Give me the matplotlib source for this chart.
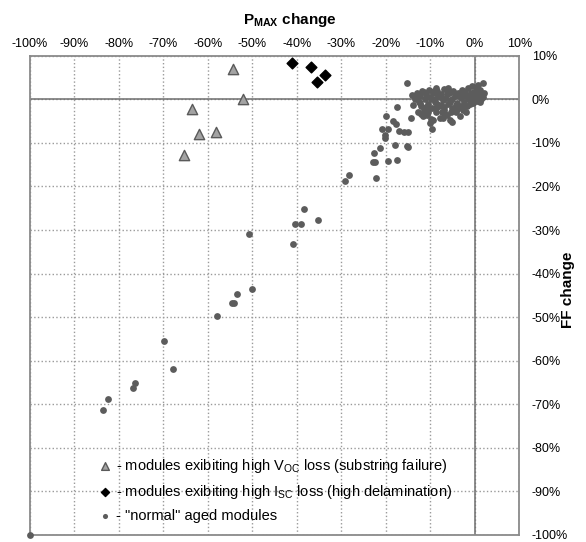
import matplotlib
matplotlib.use("Agg")
import matplotlib.pyplot as plt
from matplotlib.ticker import FuncFormatter

plt.rcParams.update({"font.family": ["Liberation Sans", "DejaVu Sans"], "font.size": 9})

# modules with high Voc loss (substring failure): Pmax change %, FF change %
voc_pmax = [-54.4, -52.2, -63.5, -58.2, -62.0, -65.3]
voc_ff = [7.0, 0.0, -2.2, -7.4, -7.9, -12.7]

# modules with high Isc loss (high delamination)
isc_pmax = [-41.0, -36.8, -33.6, -35.5]
isc_ff = [8.3, 7.4, 5.6, 4.1]

# "normal" aged modules
norm_pmax = [
    -100.0, -83.5, -82.4, -76.8, -76.4, -69.8, -67.8, -57.9, -54.6, -54.1,
    -53.5, -50.0, -50.7, -40.9, -40.5, -39.1, -38.3, -35.3, -29.1, -28.2,
    -22.2, -22.4, -22.9, -22.6, -21.3, -20.9, -20.1, -20.1, -20.0, -19.4,
    -19.4, -18.3, -17.9, -17.7, -17.5, -17.4, -17.1, -16.0, -15.3, -15.3,
    -14.9, -14.9, -14.4, -9.6,
    -14.0, -13.5, -13.0, -12.6, -12.2, -12.0, -11.8, -11.5, -11.2, -11.0,
    -10.8, -10.5, -10.2, -10.0, -9.8, -9.6, -9.3, -9.0, -8.8, -8.5,
    -8.2, -8.0, -7.8, -7.5, -7.2, -7.0, -6.8, -6.5, -6.2, -6.0,
    -5.8, -5.5, -5.2, -5.0, -4.8, -4.5, -4.2, -4.0, -3.8, -3.5,
    -3.3, -3.0, -2.8, -2.6, -2.3, -2.0, -1.8, -1.5, -1.3, -1.0,
    -0.8, -0.5, -0.3, 0.0, 0.2, 0.5, 0.8, 1.0, 1.2, 1.5,
    1.8, 2.0, -12.8, -10.0, -9.3, -7.1, -5.1, -11.6, -13.8, -6.0,
    -8.8, -11.0, -6.8, -4.0, -2.0, -0.5, 0.5, -9.0, -7.5, -3.0,
    -13.2, -12.4, -11.4, -10.6, -9.9, -9.1, -8.4, -7.7, -6.9, -6.3,
    -5.6, -4.9, -4.3, -3.6, -2.9, -2.2, -1.6, -0.9, -0.2, 0.6,
    1.3, 1.9, -12.0, -10.4, -8.6, -7.3, -5.4, -3.9, -2.5, -1.1,
]
norm_ff = [
    -100.0, -71.3, -68.8, -66.2, -65.2, -55.4, -61.9, -49.7, -46.8, -46.8,
    -44.7, -43.5, -31.0, -33.3, -28.7, -28.7, -25.2, -27.8, -18.7, -17.3,
    -18.0, -14.3, -14.3, -12.4, -11.2, -6.8, -8.2, -8.9, -3.8, -6.8,
    -14.1, -4.9, -10.4, -5.6, -13.9, -1.8, -7.2, -7.4, -10.8, 3.7,
    -7.5, -11.0, -4.3, -6.8,
    1.0, 0.2, 1.5, -0.5, 0.8, -1.5, 2.0, -2.5, 0.0, 1.2,
    -3.5, -1.0, 2.2, 0.5, -4.5, -2.0, 1.5, -0.5, -3.0, 2.0,
    0.8, -1.5, -4.2, 1.2, -0.2, -2.5, 2.3, 0.4, -3.5, -1.0,
    1.5, -4.8, 0.0, -2.0, 2.0, 0.8, -3.0, -0.8, 1.5, -1.8,
    -3.8, 0.3, 2.2, -2.4, -0.5, 1.0, -1.5, 2.5, 0.0, -1.0,
    1.5, 3.0, -0.8, 0.5, 2.0, -0.3, 3.3, 1.0, 2.2, 0.2,
    3.8, 1.5, -2.8, -5.5, -4.7, -4.3, -5.1, -3.9, -1.2, 2.5,
    2.6, -1.8, -3.2, 1.0, -2.9, 0.8, 1.2, 0.0, -1.2, -1.5,
    0.6, -0.9, 1.8, -2.2, 0.1, 2.0, -1.0, 0.6, -1.8, 1.3,
    -0.6, 1.8, -1.4, 0.9, -2.0, 1.6, 0.4, -0.2, 1.6, 2.6,
    -0.6, 0.5, -3.3, -2.8, -2.0, -3.0, -2.9, -2.2, 0.9, 0.3,
]

ticks = list(range(-100, 11, 10))

fig = plt.figure(figsize=(5.86, 5.42), dpi=100)
ax = fig.add_axes([0.051, 0.013, 0.835, 0.884])

ax.scatter(voc_pmax, voc_ff, marker="^", s=55, c="#a3a3a3", edgecolors="#5a5a5a",
           linewidths=1.0, zorder=4,
           label=r"- modules exibiting high V$_{\mathregular{OC}}$ loss (substring failure)")
ax.scatter(isc_pmax, isc_ff, marker="D", s=30, c="black", zorder=4,
           label=r"- modules exibiting high I$_{\mathregular{SC}}$ loss (high delamination)")
ax.scatter(norm_pmax, norm_ff, marker="o", s=24, c="#5c5c5c", linewidths=0, zorder=3,
           clip_on=False, label='- "normal" aged modules')

ax.set_xlim(-100, 10)
ax.set_ylim(-100, 10)
ax.set_xticks(ticks)
ax.set_yticks(ticks)
pct = FuncFormatter(lambda v, p: f"{v:.0f}%")
ax.xaxis.set_major_formatter(pct)
ax.yaxis.set_major_formatter(pct)
ax.xaxis.tick_top()
ax.yaxis.tick_right()
ax.tick_params(axis="x", length=0, pad=4, labelsize=9)
ax.tick_params(axis="y", length=0, pad=9, labelsize=9)
for lab in ax.get_yticklabels():
    lab.set_horizontalalignment("left")

ax.grid(True, ls=":", color="#9a9a9a", lw=1.0)
ax.axhline(0, color="#6e6e6e", lw=1.1, zorder=2)
ax.axvline(0, color="#6e6e6e", lw=1.1, zorder=2)
for sp in ax.spines.values():
    sp.set_color("#8a8a8a")
    sp.set_linewidth(1.3)

fig.text(290 / 586, 1 - 20 / 542, r"P$_{\mathregular{MAX}}$ change", ha="center", va="center",
         fontsize=11, fontweight="bold")
fig.text(568 / 586, 1 - 290 / 542, "FF change", ha="center", va="center",
         rotation=90, fontsize=11, fontweight="bold")

ax.legend(loc="lower left", bbox_to_anchor=(0.11, -0.003), frameon=False,
          handletextpad=0.2, labelspacing=0.55, fontsize=10.5, handlelength=1.1,
          markerscale=0.75)

fig.savefig("out.png", dpi=100)
